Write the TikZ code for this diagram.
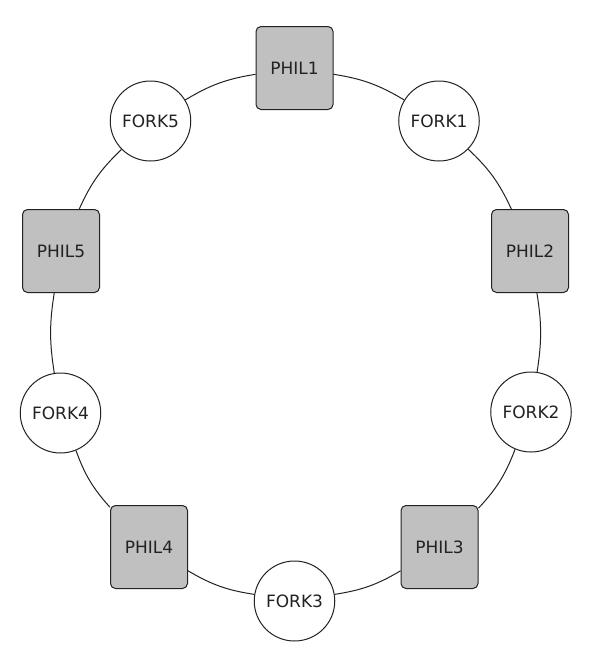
\documentclass[tikz,border=0pt]{standalone}
\usepackage{fontspec}
\setmainfont{DejaVu Sans}
\usetikzlibrary{shapes.geometric}
\definecolor{philgray}{RGB}{192,192,192}
\definecolor{inkline}{RGB}{34,34,34}
\tikzset{
  philbox/.style={draw=inkline, line width=1pt, fill=philgray, rounded corners=5pt,
    minimum width=77pt, minimum height=83pt, inner sep=0pt, text=inkline,
    font=\fontsize{17}{20}\selectfont},
  forkcirc/.style={draw=inkline, line width=1pt, fill=white, ellipse,
    minimum width=77pt, minimum height=80pt, inner sep=0pt, text=inkline,
    font=\fontsize{17}{20}\selectfont},
  ring/.style={draw=inkline, line width=1pt, bend left=11}
}
\begin{document}
\begin{tikzpicture}[x=1pt,y=1pt]
\useasboundingbox (0,0) rectangle (595,-659);
\node[philbox] (p1) at (294.5,-68) {PHIL1};
\node[forkcirc] (f1) at (439,-121) {FORK1};
\node[philbox] (p2) at (530,-251) {PHIL2};
\node[forkcirc] (f2) at (531,-412) {FORK2};
\node[philbox] (p3) at (439.5,-547) {PHIL3};
\node[forkcirc] (f3) at (294.5,-601) {FORK3};
\node[philbox] (p4) at (149,-547) {PHIL4};
\node[forkcirc] (f4) at (60.5,-413) {FORK4};
\node[philbox] (p5) at (61,-251) {PHIL5};
\node[forkcirc] (f5) at (150.5,-121) {FORK5};
\draw[ring] (p1) to (f1);
\draw[ring] (f1) to (p2);
\draw[ring, bend left=9] (p2) to (f2);
\draw[ring] (f2) to (p3);
\draw[ring] (p3) to (f3);
\draw[ring] (f3) to (p4);
\draw[ring] (p4) to (f4);
\draw[ring, bend left=9] (f4) to (p5);
\draw[ring] (p5) to (f5);
\draw[ring] (f5) to (p1);
\end{tikzpicture}
\end{document}
